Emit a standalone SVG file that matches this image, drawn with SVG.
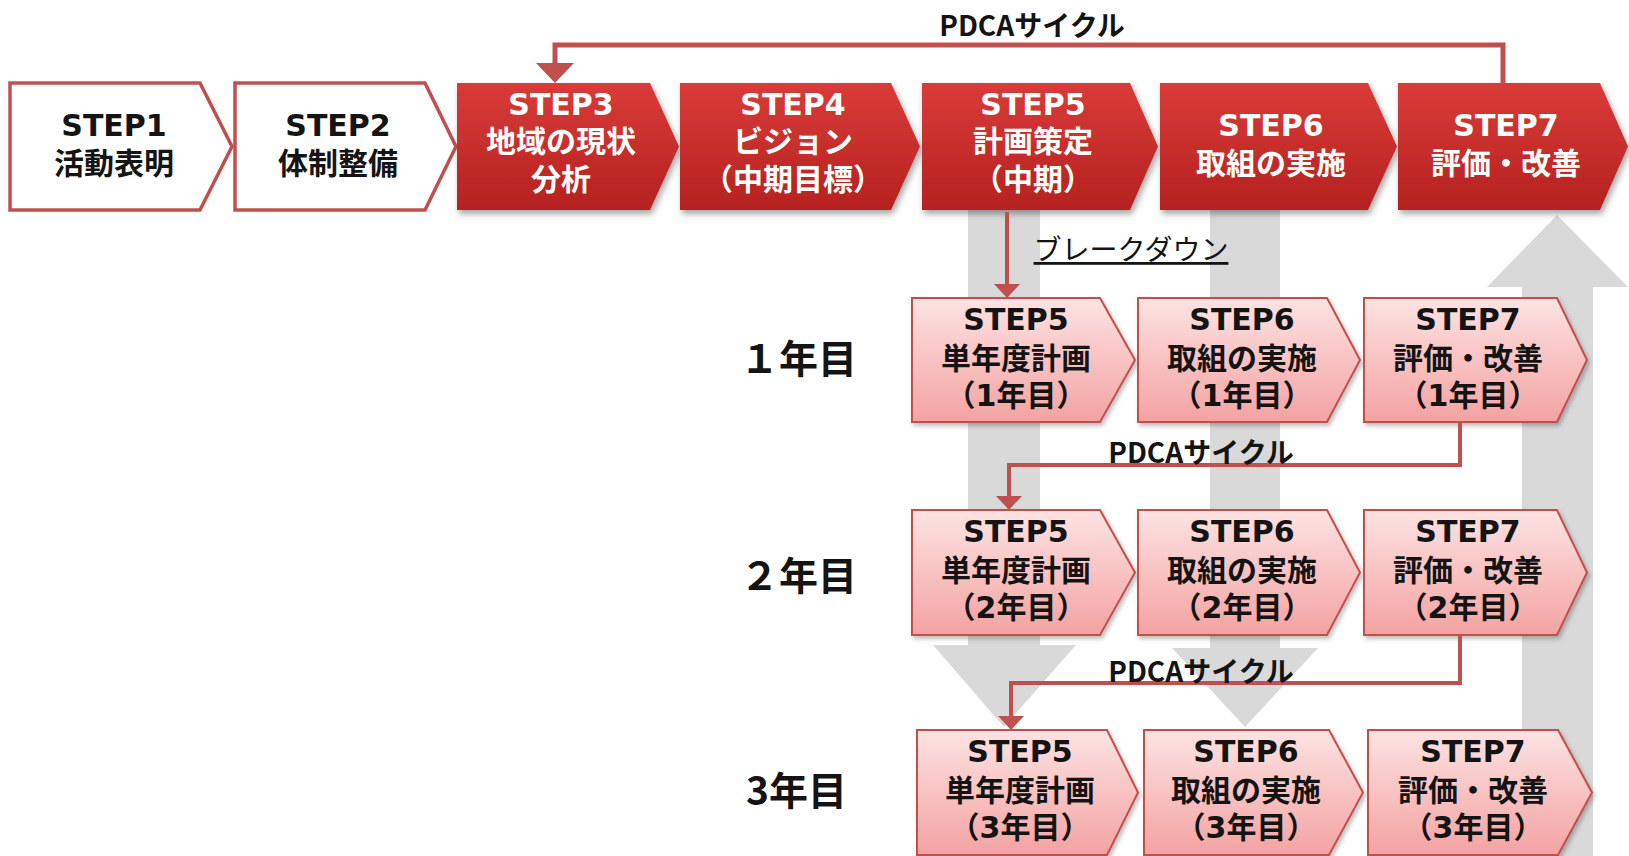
<svg xmlns="http://www.w3.org/2000/svg" width="1629" height="856" viewBox="0 0 1629 856">
<style>
.t{font-family:"DejaVu Sans","Noto Sans CJK JP",sans-serif;font-weight:bold;font-size:30px;text-anchor:middle}
.w{fill:#ffffff}
.k{fill:#141414}
.wbox{fill:#ffffff;stroke:#c0504d;stroke-width:3.5}
.rbox{fill:url(#gRed);filter:url(#sh)}
.pbox{fill:url(#gPink);stroke:#c0504d;stroke-width:2;filter:url(#sh2)}
.gray{fill:#d9d9d9}
.con{fill:none;stroke:#c0504d;stroke-linejoin:miter}
.lbl{font-family:"Noto Sans CJK JP",sans-serif;font-weight:bold;font-size:28px;fill:#141414;text-anchor:middle}
.bd{font-family:"Noto Sans CJK JP",sans-serif;font-weight:normal;font-size:28px;fill:#141414;text-anchor:middle;text-decoration:underline}
.yr{font-family:"Noto Sans CJK JP",sans-serif;font-weight:bold;font-size:39px;fill:#141414}
</style>
<defs>
<linearGradient id="gRed" x1="0" y1="0" x2="0" y2="1">
<stop offset="0" stop-color="#d93b38"/>
<stop offset="1" stop-color="#b52220"/>
</linearGradient>
<linearGradient id="gPink" x1="0" y1="0" x2="0" y2="1">
<stop offset="0" stop-color="#fde3e3"/>
<stop offset="1" stop-color="#f4a2a2"/>
</linearGradient>
<filter id="sh" x="-10%" y="-10%" width="130%" height="140%">
<feDropShadow dx="2" dy="4" stdDeviation="3" flood-color="#000" flood-opacity="0.35"/>
</filter>
<filter id="sh2" x="-10%" y="-10%" width="130%" height="140%">
<feDropShadow dx="2" dy="3" stdDeviation="2" flood-color="#000" flood-opacity="0.25"/>
</filter>
<marker id="ahBig" markerUnits="userSpaceOnUse" viewBox="0 0 20 38" markerWidth="20" markerHeight="38" refX="1" refY="19" orient="auto">
<path d="M0,0 L20,19 L0,38 Z" fill="#c0504d"/>
</marker>
<marker id="ahSm" markerUnits="userSpaceOnUse" viewBox="0 0 14 26" markerWidth="14" markerHeight="26" refX="1" refY="13" orient="auto">
<path d="M0,0 L14,13 L0,26 Z" fill="#c0504d"/>
</marker>
</defs>
<rect width="1629" height="856" fill="#ffffff"/>

<g id="background-arrows">
<polygon class="gray" points="968,210 1040,210 1040,645 1076,645 1004,727 933,645 968,645"/>
<polygon class="gray" points="1210,210 1280,210 1280,648 1318,648 1245,727 1172,648 1210,648"/>
<polygon class="gray" points="1522,856 1522,287 1487,287 1557,215 1628,287 1593,287 1593,856"/>
</g>

<g id="step1">
<polygon class="wbox" points="10,83 200,83 232,146.5 200,210 10,210"/>
<text class="t k" x="114" y="136">STEP1</text>
<text class="t k" x="114" y="174">活動表明</text>
</g>
<g id="step2">
<polygon class="wbox" points="235,83 425,83 456,146.5 425,210 235,210"/>
<text class="t k" x="338" y="136">STEP2</text>
<text class="t k" x="338" y="174">体制整備</text>
</g>
<g id="step3">
<polygon class="rbox" points="457,83 650,83 679,146.5 650,210 457,210"/>
<text class="t w" x="561" y="115">STEP3</text>
<text class="t w" x="561" y="152">地域の現状</text>
<text class="t w" x="561" y="190">分析</text>
</g>
<g id="step4">
<polygon class="rbox" points="680,83 891,83 920,146.5 891,210 680,210"/>
<text class="t w" x="793" y="115">STEP4</text>
<text class="t w" x="793" y="152">ビジョン</text>
<text class="t w" x="793" y="190">（中期目標）</text>
</g>
<g id="step5">
<polygon class="rbox" points="922,83 1130,83 1158,146.5 1130,210 922,210"/>
<text class="t w" x="1033" y="115">STEP5</text>
<text class="t w" x="1033" y="152">計画策定</text>
<text class="t w" x="1033" y="190">（中期）</text>
</g>
<g id="step6">
<polygon class="rbox" points="1160,83 1368,83 1397,146.5 1368,210 1160,210"/>
<text class="t w" x="1271" y="136">STEP6</text>
<text class="t w" x="1271" y="174">取組の実施</text>
</g>
<g id="step7">
<polygon class="rbox" points="1398,83 1600,83 1628,146.5 1600,210 1398,210"/>
<text class="t w" x="1506" y="136">STEP7</text>
<text class="t w" x="1506" y="174">評価・改善</text>
</g>

<g id="year1-label"><text class="yr" x="740" y="373">１年目</text></g>
<g id="year2-label"><text class="yr" x="740" y="590">２年目</text></g>
<g id="year3-label"><text class="yr" x="746" y="805">3年目</text></g>

<g id="y1-step5">
<polygon class="pbox" points="912,298 1100,298 1135,360 1100,422 912,422"/>
<text class="t k" x="1016" y="330">STEP5</text>
<text class="t k" x="1016" y="369">単年度計画</text>
<text class="t k" x="1016" y="406">（1年目）</text>
</g>
<g id="y1-step6">
<polygon class="pbox" points="1138,298 1327,298 1360,360 1327,422 1138,422"/>
<text class="t k" x="1242" y="330">STEP6</text>
<text class="t k" x="1242" y="369">取組の実施</text>
<text class="t k" x="1242" y="406">（1年目）</text>
</g>
<g id="y1-step7">
<polygon class="pbox" points="1364,298 1557,298 1587,360 1557,422 1364,422"/>
<text class="t k" x="1468" y="330">STEP7</text>
<text class="t k" x="1468" y="369">評価・改善</text>
<text class="t k" x="1468" y="406">（1年目）</text>
</g>

<g id="y2-step5">
<polygon class="pbox" points="912,510 1100,510 1135,572.5 1100,635 912,635"/>
<text class="t k" x="1016" y="542">STEP5</text>
<text class="t k" x="1016" y="581">単年度計画</text>
<text class="t k" x="1016" y="618">（2年目）</text>
</g>
<g id="y2-step6">
<polygon class="pbox" points="1138,510 1327,510 1360,572.5 1327,635 1138,635"/>
<text class="t k" x="1242" y="542">STEP6</text>
<text class="t k" x="1242" y="581">取組の実施</text>
<text class="t k" x="1242" y="618">（2年目）</text>
</g>
<g id="y2-step7">
<polygon class="pbox" points="1364,510 1557,510 1587,572.5 1557,635 1364,635"/>
<text class="t k" x="1468" y="542">STEP7</text>
<text class="t k" x="1468" y="581">評価・改善</text>
<text class="t k" x="1468" y="618">（2年目）</text>
</g>

<g id="y3-step5">
<polygon class="pbox" points="917,730 1107,730 1138,792.5 1107,855 917,855"/>
<text class="t k" x="1020" y="762">STEP5</text>
<text class="t k" x="1020" y="801">単年度計画</text>
<text class="t k" x="1020" y="838">（3年目）</text>
</g>
<g id="y3-step6">
<polygon class="pbox" points="1144,730 1329,730 1363,792.5 1329,855 1144,855"/>
<text class="t k" x="1246" y="762">STEP6</text>
<text class="t k" x="1246" y="801">取組の実施</text>
<text class="t k" x="1246" y="838">（3年目）</text>
</g>
<g id="y3-step7">
<polygon class="pbox" points="1368,730 1558,730 1592,792.5 1558,855 1368,855"/>
<text class="t k" x="1473" y="762">STEP7</text>
<text class="t k" x="1473" y="801">評価・改善</text>
<text class="t k" x="1473" y="838">（3年目）</text>
</g>

<g id="connectors">
<path class="con" stroke-width="5" d="M1503,84 V45 H555 V64" marker-end="url(#ahBig)"/>
<text class="lbl" x="1032" y="36">PDCAサイクル</text>
<path class="con" stroke-width="4" d="M1007,212 V285" marker-end="url(#ahSm)"/>
<text class="bd" x="1131" y="260">ブレークダウン</text>
<path class="con" stroke-width="4" d="M1460,422 V465 H1009 V497" marker-end="url(#ahSm)"/>
<text class="lbl" x="1201" y="463">PDCAサイクル</text>
<path class="con" stroke-width="4" d="M1460,635 V683 H1011 V717" marker-end="url(#ahSm)"/>
<text class="lbl" x="1201" y="682">PDCAサイクル</text>
</g>
</svg>
